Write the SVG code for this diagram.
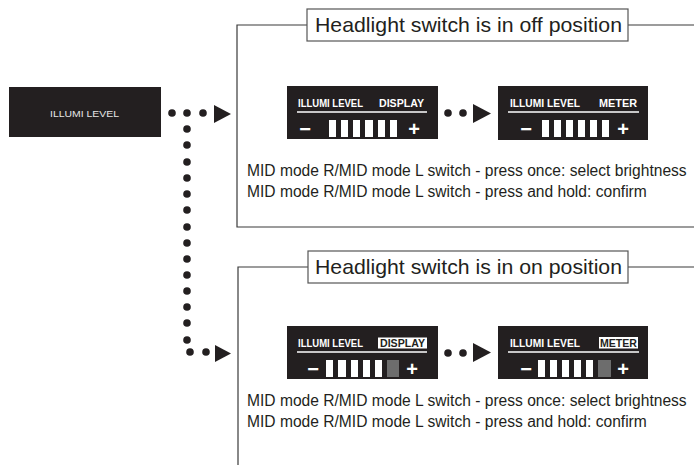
<svg xmlns="http://www.w3.org/2000/svg" width="694" height="465" viewBox="0 0 694 465">
<defs>
<style>
.bg{fill:#fff}
.panel{fill:#231f20}
.frame{fill:none;stroke:#3a3a3a;stroke-width:1.2}
.hdrbox{fill:#fff;stroke:#555;stroke-width:1.2}
.hdr{font-family:"Liberation Sans",Arial,sans-serif;font-size:21px;fill:#231f20}
.desc{font-family:"Liberation Sans",Arial,sans-serif;font-size:15.6px;fill:#231f20}
.lbl{font-family:"Liberation Sans",Arial,sans-serif;font-size:10px;font-weight:bold;fill:#fff}
.lblinv{font-family:"Liberation Sans",Arial,sans-serif;font-size:10px;font-weight:bold;fill:#231f20}
.big{font-family:"Liberation Sans",Arial,sans-serif;font-size:9.5px;fill:#e6e6e6}
.pm{font-family:"Liberation Sans",Arial,sans-serif;font-size:20px;font-weight:bold;fill:#fff;text-anchor:middle}
.bar{fill:#fff}
.gbar{fill:#6d6d6d}
.uline{stroke:#fff;stroke-width:1.3}
.dot{fill:#231f20}
.arr{fill:#231f20}
</style>
</defs>
<rect class="bg" x="0" y="0" width="694" height="465"/>

<g id="connectors">
  <polyline class="frame" points="307,25 237,25 237,227 694,227"/>
  <line class="frame" x1="628" y1="25" x2="694" y2="25"/>
  <polyline class="frame" points="308,267 238,267 238,465"/>
  <line class="frame" x1="628" y1="267" x2="694" y2="267"/>
  <circle class="dot" cx="172" cy="113" r="3.8"/>
  <circle class="dot" cx="187" cy="113" r="3.8"/>
  <circle class="dot" cx="203" cy="113" r="3.8"/>
  <polygon class="arr" points="214,105 231,114 214,123"/>
  <circle class="dot" cx="187" cy="129" r="3.8"/>
  <circle class="dot" cx="187" cy="145" r="3.8"/>
  <circle class="dot" cx="187" cy="162" r="3.8"/>
  <circle class="dot" cx="187" cy="178" r="3.8"/>
  <circle class="dot" cx="187" cy="194" r="3.8"/>
  <circle class="dot" cx="187" cy="210" r="3.8"/>
  <circle class="dot" cx="187" cy="227" r="3.8"/>
  <circle class="dot" cx="187" cy="243" r="3.8"/>
  <circle class="dot" cx="187" cy="259" r="3.8"/>
  <circle class="dot" cx="187" cy="275" r="3.8"/>
  <circle class="dot" cx="187" cy="291" r="3.8"/>
  <circle class="dot" cx="187" cy="307" r="3.8"/>
  <circle class="dot" cx="187" cy="323" r="3.8"/>
  <circle class="dot" cx="187" cy="340" r="3.8"/>
  <circle class="dot" cx="190" cy="352" r="3.8"/>
  <circle class="dot" cx="206" cy="352" r="3.8"/>
  <polygon class="arr" points="215,345 231,353.5 215,362"/>
  <circle class="dot" cx="448" cy="113" r="3.8"/>
  <circle class="dot" cx="463" cy="113" r="3.8"/>
  <polygon class="arr" points="473,104 491,113.5 473,123"/>
  <circle class="dot" cx="448" cy="353" r="3.8"/>
  <circle class="dot" cx="463" cy="353" r="3.8"/>
  <polygon class="arr" points="473,343 491,352.5 473,362"/>
</g>

<g id="illumi-level">
  <rect class="panel" x="9" y="87" width="152" height="50"/>
  <text class="big" x="50" y="117" textLength="69" lengthAdjust="spacingAndGlyphs">ILLUMI LEVEL</text>
</g>

<g id="off-header">
  <rect class="hdrbox" x="307" y="9" width="321" height="32"/>
  <text class="hdr" x="315" y="32" textLength="307" lengthAdjust="spacingAndGlyphs">Headlight switch is in off position</text>
</g>

<g id="off-display">
  <rect class="panel" x="287" y="86" width="151" height="53"/>
  <text class="lbl" x="298" y="107" textLength="65" lengthAdjust="spacingAndGlyphs">ILLUMI LEVEL</text>
  <text class="lbl" x="379" y="107" textLength="45" lengthAdjust="spacingAndGlyphs">DISPLAY</text>
  <line class="uline" x1="297" y1="112" x2="427" y2="112"/>
  <text class="pm" x="305" y="136">−</text>
  <rect class="bar" x="329" y="120" width="7" height="17"/>
  <rect class="bar" x="341" y="120" width="7" height="17"/>
  <rect class="bar" x="353" y="120" width="7" height="17"/>
  <rect class="bar" x="365" y="120" width="8" height="17"/>
  <rect class="bar" x="378" y="120" width="7" height="17"/>
  <rect class="bar" x="390" y="120" width="7" height="17"/>
  <text class="pm" x="414" y="136">+</text>
</g>

<g id="off-meter">
  <rect class="panel" x="498" y="86" width="150" height="54"/>
  <text class="lbl" x="510" y="107" textLength="70" lengthAdjust="spacingAndGlyphs">ILLUMI LEVEL</text>
  <text class="lbl" x="599" y="107" textLength="38" lengthAdjust="spacingAndGlyphs">METER</text>
  <line class="uline" x1="508" y1="112" x2="639" y2="112"/>
  <text class="pm" x="526" y="136">−</text>
  <rect class="bar" x="542" y="120" width="7" height="17"/>
  <rect class="bar" x="554" y="120" width="7" height="17"/>
  <rect class="bar" x="566" y="120" width="7" height="17"/>
  <rect class="bar" x="578" y="120" width="7" height="17"/>
  <rect class="bar" x="590" y="120" width="7" height="17"/>
  <rect class="bar" x="602" y="120" width="7" height="17"/>
  <text class="pm" x="623" y="136">+</text>
</g>

<g id="off-text">
  <text class="desc" x="247" y="176">MID mode R/MID mode L switch - press once: select brightness</text>
  <text class="desc" x="247" y="197">MID mode R/MID mode L switch - press and hold: confirm</text>
</g>

<g id="on-header">
  <rect class="hdrbox" x="308" y="251" width="320" height="32"/>
  <text class="hdr" x="315" y="274" textLength="307" lengthAdjust="spacingAndGlyphs">Headlight switch is in on position</text>
</g>

<g id="on-display">
  <rect class="panel" x="287" y="326" width="151" height="53"/>
  <text class="lbl" x="298" y="347" textLength="65" lengthAdjust="spacingAndGlyphs">ILLUMI LEVEL</text>
  <rect fill="#fff" x="378" y="337.5" width="49" height="11"/>
  <text class="lblinv" x="380" y="347" textLength="45" lengthAdjust="spacingAndGlyphs">DISPLAY</text>
  <line class="uline" x1="297" y1="352" x2="427" y2="352"/>
  <text class="pm" x="313" y="376">−</text>
  <rect class="bar" x="326" y="360" width="7" height="17"/>
  <rect class="bar" x="338" y="360" width="8" height="17"/>
  <rect class="bar" x="351" y="360" width="7" height="17"/>
  <rect class="bar" x="363" y="360" width="7" height="17"/>
  <rect class="bar" x="375" y="360" width="7" height="17"/>
  <rect class="gbar" x="387" y="360" width="12" height="17"/>
  <text class="pm" x="412" y="376">+</text>
</g>

<g id="on-meter">
  <rect class="panel" x="498" y="326" width="150" height="53"/>
  <text class="lbl" x="510" y="347" textLength="70" lengthAdjust="spacingAndGlyphs">ILLUMI LEVEL</text>
  <rect fill="#fff" x="599" y="337" width="39" height="11.5"/>
  <text class="lblinv" x="600" y="347" textLength="37" lengthAdjust="spacingAndGlyphs">METER</text>
  <line class="uline" x1="508" y1="352" x2="639" y2="352"/>
  <text class="pm" x="526" y="376">−</text>
  <rect class="bar" x="538" y="360" width="7" height="17"/>
  <rect class="bar" x="550" y="360" width="7" height="17"/>
  <rect class="bar" x="562" y="360" width="7" height="17"/>
  <rect class="bar" x="574" y="360" width="7" height="17"/>
  <rect class="bar" x="586" y="360" width="7" height="17"/>
  <rect class="gbar" x="598" y="360" width="13" height="17"/>
  <text class="pm" x="623" y="376">+</text>
</g>

<g id="on-text">
  <text class="desc" x="247" y="406">MID mode R/MID mode L switch - press once: select brightness</text>
  <text class="desc" x="247" y="427">MID mode R/MID mode L switch - press and hold: confirm</text>
</g>
</svg>
